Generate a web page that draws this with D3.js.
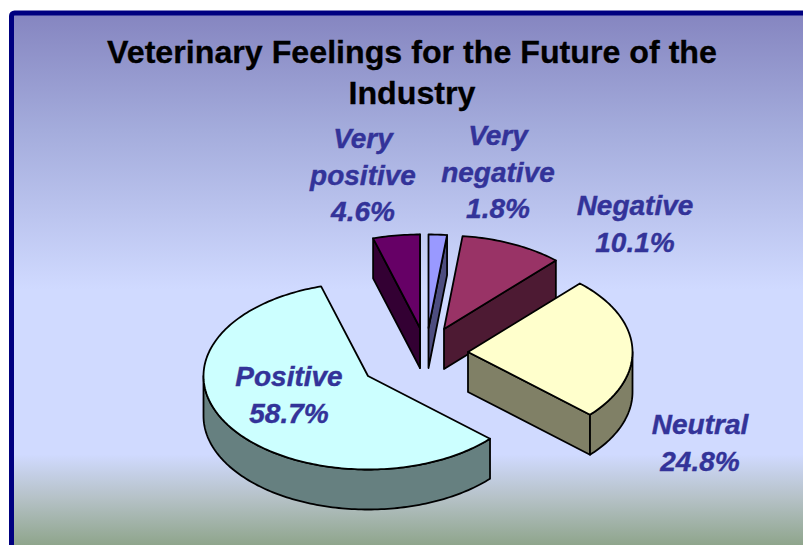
<!DOCTYPE html>
<html><head><meta charset="utf-8">
<style>html,body{margin:0;padding:0;background:#fff;overflow:hidden}svg{display:block}</style>
<script src="https://cdn.jsdelivr.net/npm/d3@7/dist/d3.min.js"></script></head>
<body><script>
const categories = ["Very negative","Negative","Neutral","Positive","Very positive"];
const values = [1.8,10.1,24.8,58.7,4.6];
const labelLines = [["Very","negative","1.8%"],["Negative","10.1%"],["Neutral","24.8%"],["Positive","58.7%"],["Very","positive","4.6%"]];
const titleLines = ["Veterinary Feelings for the Future of the","Industry"];
const topColors = ["#9999ff","#993366","#ffffcc","#ccffff","#660066"];
const sideColors = ["#4d4d80","#4d1a33","#808066","#668080","#330033"];

// layout (not data)
const W=803,H=545, center=[427,351], rx=164.5, ry=93.5, depth=40;
const explode=[[1.5,-23],[17,-22],[41,1],[-59,25],[-7,-23]];
const labelAt=[[498,145],[635,215],[700,434],[289,386],[363,148]];
const labelStep=36.5;
const drawOrder=[4,0,1,2,3];

const svg=d3.select("body").append("svg").attr("width",W).attr("height",H);
const defs=svg.append("defs");
const g=defs.append("linearGradient").attr("id","bg").attr("gradientUnits","userSpaceOnUse").attr("x1",0).attr("y1",13).attr("x2",0).attr("y2",545);
[[0,"#8585c0"],[0.22,"#a4acdc"],[0.52,"#d0daff"],[0.83,"#d0daff"],[0.91,"#b6c2c8"],[1,"#8fa58c"]]
  .forEach(([o,c])=>g.append("stop").attr("offset",o).attr("stop-color",c));
svg.append("rect").attr("x",11.5).attr("y",13).attr("width",W+20).attr("height",H+20).attr("rx",3)
  .attr("fill","url(#bg)").attr("stroke","#000080").attr("stroke-width",5);

const pie=d3.pie().value(d=>d).sort(null);
const arcs=pie(values);
const pt=(a,o,dy=0)=>[o[0]+rx*Math.sin(a),o[1]-ry*Math.cos(a)+dy];
const line=d3.line();
const sample=(a,b)=>{const n=Math.max(2,Math.ceil((b-a)/0.02));return d3.range(n+1).map(i=>a+(b-a)*i/n);};

const layer=svg.append("g").attr("stroke","#000").attr("stroke-width",1.8).attr("stroke-linejoin","round");
drawOrder.forEach(i=>{
  const s=arcs[i], o=[center[0]+explode[i][0],center[1]+explode[i][1]];
  const a=s.startAngle,b=s.endAngle;
  const face=t=>{const p=pt(t,o);return line([o,p,[p[0],p[1]+depth],[o[0],o[1]+depth]])+"Z";};
  if(Math.sin(a)<0) layer.append("path").attr("d",face(a)).attr("fill",sideColors[i]);
  if(Math.sin(b)>0) layer.append("path").attr("d",face(b)).attr("fill",sideColors[i]);
  const w0=Math.max(a,Math.PI/2), w1=Math.min(b,Math.PI*1.5);
  if(w1>w0){
    const ts=sample(w0,w1);
    const pts=ts.map(t=>pt(t,o)).concat(ts.slice().reverse().map(t=>pt(t,o,depth)));
    layer.append("path").attr("d",line(pts)+"Z").attr("fill",sideColors[i]);
  }
  layer.append("path").attr("d",line([o,...sample(a,b).map(t=>pt(t,o))])+"Z").attr("fill",topColors[i]);
});

const font="'Liberation Sans',Arial,sans-serif";
svg.append("g").selectAll("text").data(titleLines).join("text")
  .attr("x",412).attr("y",(d,i)=>63+i*41).attr("text-anchor","middle")
  .attr("font-family",font).attr("font-weight","bold").attr("font-size",32.2).attr("fill","#000")
  .attr("stroke","#000").attr("stroke-width",0.3).text(d=>d);
labelLines.forEach((ls,i)=>{
  svg.append("text").attr("font-family",font).attr("font-weight","bold").attr("font-style","italic")
    .attr("font-size",28).attr("fill","#333399").attr("stroke","#333399").attr("stroke-width",0.4).attr("text-anchor","middle")
    .selectAll("tspan").data(ls).join("tspan")
    .attr("x",labelAt[i][0]).attr("y",(d,j)=>labelAt[i][1]+j*labelStep).text(d=>d);
});
</script></body></html>
